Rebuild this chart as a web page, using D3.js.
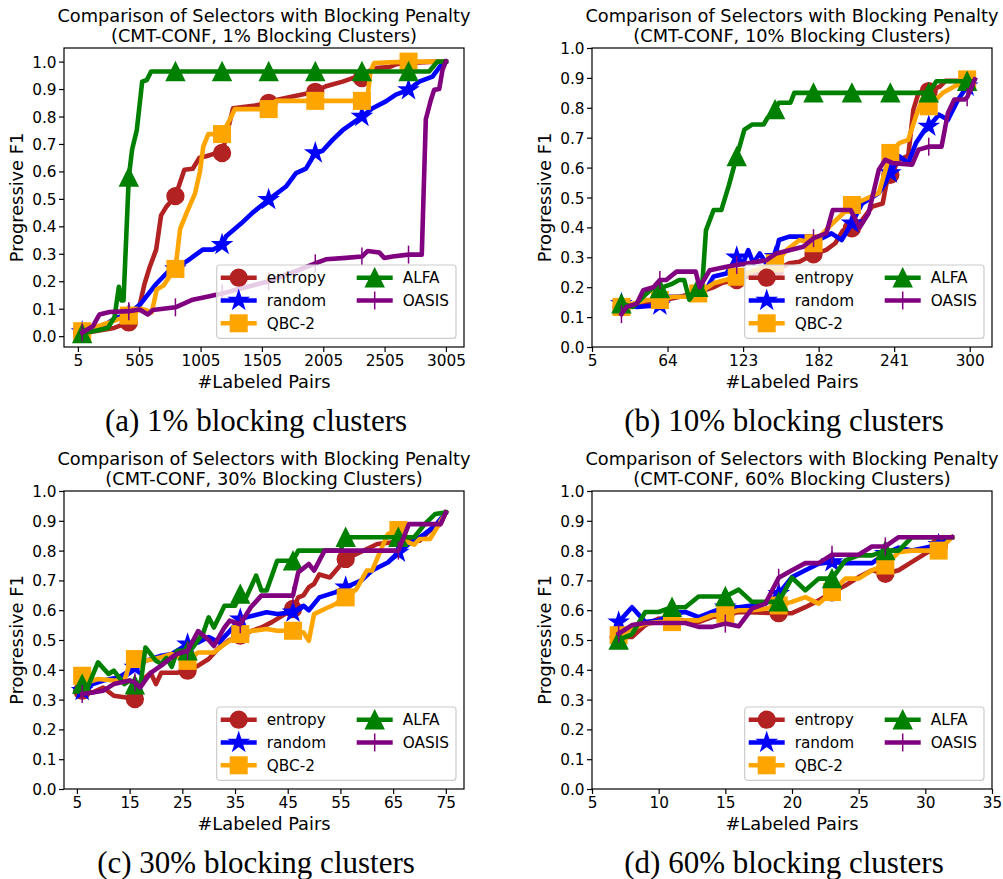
<!DOCTYPE html>
<html>
<head>
<meta charset="utf-8">
<script src="https://cdnjs.cloudflare.com/ajax/libs/d3/7.8.5/d3.min.js"></script>
<style>
  body { margin: 0; background: #fff; }
  svg { display: block; }
  text { font-family: "DejaVu Sans", sans-serif; fill: #000; }
  .caption { font-family: "Liberation Serif", serif; }
</style>
</head>
<body>
<svg id="fig"></svg>
<script>

const width = 1003;
const height = 879;

// series names, legend order (column-major, 3 rows)
const names = ["entropy", "random", "QBC-2", "ALFA", "OASIS"];
const colors = ["#b22222", "#0000ff", "#ffa500", "#008000", "#800080"];
const markers = ["o", "*", "s", "^", "|"];

const yTicks = [0, 0.1, 0.2, 0.3, 0.4, 0.5, 0.6, 0.7, 0.8, 0.9, 1.0];

// ---------- (a) 1% blocking clusters ----------
const xTicksA = [5, 505, 1005, 1505, 2005, 2505, 3005];
const marksA = [40, 420, 800, 1180, 1560, 1940, 2320, 2700];
const entropyA = [[40,0.01],[300,0.03],[420,0.05],[507,0.11],[548,0.19],[589,0.25],[643,0.315],[683,0.44],[724,0.47],[800,0.51],[873,0.606],[941,0.61],[996,0.65],[1050,0.655],[1120,0.665],[1180,0.667],[1210,0.72],[1270,0.83],[1450,0.84],[1560,0.85],[1620,0.86],[1756,0.873],[1940,0.89],[2027,0.91],[2163,0.927],[2244,0.94],[2320,0.94],[2407,0.976],[2543,0.98],[2597,0.99],[2700,0.995],[2922,1.0],[3004,1.0]];
const randomA = [[40,0.015],[209,0.036],[317,0.067],[420,0.08],[521,0.12],[643,0.19],[751,0.24],[800,0.245],[914,0.28],[1023,0.315],[1104,0.315],[1180,0.333],[1213,0.364],[1335,0.41],[1430,0.45],[1560,0.497],[1701,0.545],[1783,0.594],[1864,0.61],[1940,0.667],[2000,0.675],[2081,0.715],[2163,0.75],[2320,0.8],[2407,0.83],[2515,0.855],[2597,0.88],[2700,0.897],[2787,0.927],[2895,0.945],[2977,0.994],[3004,1.0]];
const qbcA = [[40,0.018],[263,0.05],[420,0.075],[521,0.1],[607,0.087],[648,0.17],[702,0.184],[757,0.22],[800,0.245],[838,0.39],[892,0.45],[960,0.52],[1000,0.6],[1027,0.69],[1068,0.736],[1180,0.736],[1245,0.79],[1285,0.827],[1560,0.827],[1620,0.857],[1940,0.857],[2320,0.857],[2362,0.857],[2389,0.96],[2420,0.995],[2700,1.0],[3004,1.0]];
const alfaA = [[40,0.01],[150,0.02],[250,0.03],[304,0.07],[339,0.18],[361,0.13],[377,0.13],[420,0.58],[447,0.68],[485,0.75],[529,0.927],[567,0.933],[602,0.964],[800,0.964],[1180,0.964],[1560,0.964],[1940,0.964],[2320,0.964],[2700,0.964],[2868,0.964],[2936,1.0],[3004,1.0]];
const oasisA = [[40,0.013],[127,0.036],[181,0.079],[263,0.088],[420,0.091],[507,0.097],[575,0.079],[616,0.095],[800,0.105],[941,0.133],[1077,0.145],[1180,0.155],[1300,0.17],[1560,0.2],[1800,0.24],[1940,0.265],[2027,0.28],[2190,0.285],[2320,0.29],[2366,0.31],[2461,0.305],[2502,0.285],[2570,0.29],[2700,0.297],[2808,0.297],[2841,0.79],[2882,0.86],[2909,0.897],[2950,0.9],[2977,0.97],[3004,1.0]];

// ---------- (b) 10% blocking clusters ----------
const xTicksB = [5, 64, 123, 182, 241, 300];
const marksB = [28, 58, 88, 118, 148, 178, 208, 238, 268, 298];
const entropyB = [[28,0.134],[40,0.14],[58,0.155],[70,0.165],[85,0.18],[100,0.2],[107,0.215],[118,0.224],[130,0.24],[148,0.255],[159,0.28],[167,0.285],[178,0.31],[188,0.325],[195,0.347],[201,0.39],[208,0.397],[216,0.425],[224,0.47],[232,0.48],[236,0.57],[238,0.576],[245,0.626],[252,0.64],[256,0.794],[260,0.85],[268,0.856],[277,0.872],[281,0.89],[301,0.89]];
const randomB = [[28,0.145],[40,0.134],[58,0.14],[63,0.168],[82,0.168],[91,0.17],[100,0.236],[110,0.246],[118,0.3],[123,0.28],[127,0.324],[131,0.28],[136,0.313],[141,0.28],[148,0.302],[151,0.358],[159,0.369],[177,0.369],[182,0.358],[192,0.38],[200,0.358],[208,0.414],[216,0.48],[229,0.515],[234,0.548],[238,0.582],[245,0.638],[252,0.615],[258,0.682],[265,0.727],[268,0.738],[276,0.777],[283,0.76],[291,0.828],[298,0.872],[301,0.889]];
const qbcB = [[28,0.134],[37,0.145],[48,0.157],[58,0.157],[68,0.168],[78,0.168],[88,0.179],[100,0.213],[118,0.235],[135,0.26],[148,0.28],[157,0.324],[167,0.358],[178,0.347],[193,0.414],[208,0.475],[216,0.49],[229,0.515],[238,0.649],[245,0.682],[252,0.693],[258,0.772],[263,0.828],[268,0.805],[279,0.85],[298,0.895],[301,0.895]];
const alfaB = [[28,0.145],[37,0.134],[45,0.168],[52,0.196],[58,0.196],[67,0.21],[73,0.224],[77,0.224],[81,0.158],[88,0.2],[91,0.2],[94,0.39],[100,0.458],[106,0.458],[112,0.542],[118,0.637],[124,0.727],[130,0.744],[139,0.744],[142,0.766],[148,0.794],[151,0.817],[160,0.817],[163,0.85],[178,0.85],[208,0.85],[238,0.85],[268,0.85],[274,0.889],[298,0.889],[301,0.889]];
const oasisB = [[28,0.11],[32,0.134],[40,0.145],[45,0.19],[53,0.2],[58,0.224],[63,0.224],[71,0.252],[86,0.252],[89,0.2],[97,0.257],[110,0.268],[118,0.274],[141,0.29],[149,0.313],[170,0.335],[178,0.364],[188,0.38],[193,0.458],[207,0.458],[214,0.4],[221,0.447],[229,0.593],[234,0.626],[240,0.615],[255,0.61],[260,0.66],[268,0.67],[278,0.67],[283,0.783],[288,0.828],[296,0.828],[298,0.835],[304,0.895]];

// ---------- (c) 30% blocking clusters ----------
const xTicksC = [5, 15, 25, 35, 45, 55, 65, 75];
const marksC = [6, 16, 26, 36, 46, 56, 66];
const entropyC = [[6,0.33],[8,0.324],[10,0.34],[12,0.313],[14,0.308],[16,0.302],[17,0.358],[19,0.39],[20,0.352],[21,0.39],[24,0.39],[26,0.397],[28,0.414],[30,0.436],[32,0.475],[34,0.5],[36,0.515],[38,0.53],[40,0.542],[42,0.56],[46,0.604],[47,0.643],[48,0.65],[49,0.677],[50,0.688],[51,0.72],[53,0.71],[56,0.772],[57,0.78],[62,0.822],[65,0.828],[68,0.833],[70,0.833],[72,0.867],[74,0.889],[75,0.928]];
const randomC = [[6,0.33],[8,0.352],[10,0.364],[13,0.375],[16,0.408],[18,0.43],[21,0.447],[23,0.453],[26,0.486],[28,0.492],[30,0.51],[32,0.492],[34,0.53],[36,0.57],[38,0.58],[41,0.593],[43,0.587],[46,0.593],[48,0.615],[49,0.6],[51,0.643],[54,0.66],[56,0.677],[59,0.7],[61,0.733],[64,0.76],[66,0.794],[68,0.822],[71,0.856],[73,0.884],[75,0.928]];
const qbcC = [[6,0.38],[7,0.358],[9,0.369],[12,0.364],[14,0.364],[15,0.42],[16,0.436],[18,0.43],[21,0.442],[23,0.453],[26,0.43],[28,0.458],[31,0.458],[33,0.486],[36,0.52],[38,0.53],[41,0.537],[43,0.531],[46,0.531],[48,0.525],[49,0.497],[50,0.587],[52,0.604],[54,0.62],[56,0.643],[58,0.67],[60,0.733],[61,0.733],[63,0.816],[64,0.855],[66,0.869],[67,0.833],[69,0.82],[70,0.839],[72,0.839],[73,0.867],[75,0.928]];
const alfaC = [[6,0.352],[7,0.34],[9,0.425],[11,0.386],[12,0.397],[14,0.352],[15,0.364],[16,0.35],[17,0.34],[18,0.475],[20,0.43],[21,0.42],[22,0.44],[23,0.41],[24,0.464],[26,0.464],[27,0.475],[29,0.525],[30,0.576],[31,0.542],[33,0.615],[35,0.615],[36,0.654],[37,0.638],[39,0.716],[40,0.666],[41,0.666],[43,0.766],[46,0.766],[47,0.8],[55,0.8],[56,0.845],[66,0.845],[69,0.845],[71,0.889],[73,0.923],[75,0.928]];
const oasisC = [[6,0.319],[8,0.324],[10,0.33],[12,0.352],[15,0.364],[16,0.358],[17,0.34],[19,0.39],[21,0.414],[23,0.442],[24,0.453],[26,0.464],[28,0.53],[30,0.5],[31,0.48],[33,0.542],[34,0.565],[36,0.553],[38,0.61],[40,0.649],[46,0.649],[47,0.727],[49,0.755],[50,0.733],[52,0.8],[66,0.8],[68,0.889],[74,0.889],[75,0.928]];

// ---------- (d) 60% blocking clusters ----------
const xTicksD = [5, 10, 15, 20, 25, 30, 35];
const marksD = [7, 11, 15, 19, 23, 27, 31];
const entropyD = [[7,0.51],[8,0.51],[9,0.55],[10,0.572],[11,0.566],[12,0.566],[13,0.56],[14,0.577],[15,0.583],[16,0.594],[19,0.59],[20,0.59],[21,0.61],[22,0.633],[23,0.66],[24,0.683],[25,0.711],[26,0.734],[27,0.722],[28,0.734],[29,0.762],[30,0.79],[31,0.815],[32,0.845]];
const randomD = [[7,0.56],[8,0.61],[9,0.56],[10,0.566],[11,0.588],[12,0.594],[13,0.577],[14,0.594],[15,0.61],[16,0.61],[17,0.616],[18,0.622],[19,0.655],[20,0.711],[21,0.734],[22,0.756],[23,0.762],[24,0.758],[26,0.758],[27,0.79],[28,0.81],[29,0.8],[30,0.81],[31,0.82],[32,0.845]];
const qbcD = [[7,0.516],[8,0.538],[9,0.555],[10,0.56],[11,0.56],[12,0.566],[13,0.566],[14,0.583],[15,0.588],[16,0.6],[17,0.6],[18,0.605],[19,0.616],[20,0.628],[21,0.644],[22,0.622],[23,0.661],[24,0.706],[25,0.706],[26,0.734],[27,0.75],[28,0.795],[29,0.8],[31,0.8],[32,0.845]];
const alfaD = [[7,0.5],[8,0.52],[9,0.594],[10,0.594],[11,0.61],[12,0.61],[13,0.646],[15,0.646],[16,0.669],[17,0.628],[19,0.628],[20,0.709],[21,0.667],[22,0.706],[23,0.706],[24,0.767],[25,0.784],[26,0.784],[27,0.8],[28,0.8],[29,0.845],[32,0.845]];
const oasisD = [[7,0.521],[8,0.55],[9,0.557],[12,0.557],[13,0.544],[14,0.544],[15,0.555],[16,0.546],[17,0.605],[18,0.622],[19,0.709],[20,0.734],[21,0.758],[22,0.758],[23,0.786],[25,0.786],[26,0.814],[27,0.814],[28,0.845],[32,0.845]];

const panels = [
	{ title: "(CMT-CONF, 1% Blocking Clusters)", caption: "(a) 1% blocking clusters",
	  box: { l: 64, t: 48, r: 464, b: 347 }, capX: 256,
	  xTicks: xTicksA, xDomain: null, yDomain: null, marks: marksA,
	  series: [entropyA, randomA, qbcA, alfaA, oasisA] },
	{ title: "(CMT-CONF, 10% Blocking Clusters)", caption: "(b) 10% blocking clusters",
	  box: { l: 592, t: 48, r: 992, b: 347 }, capX: 784,
	  xTicks: xTicksB, xDomain: [5, 317.4], yDomain: [0, 1], marks: marksB,
	  series: [entropyB, randomB, qbcB, alfaB, oasisB] },
	{ title: "(CMT-CONF, 30% Blocking Clusters)", caption: "(c) 30% blocking clusters",
	  box: { l: 64, t: 491, r: 464, b: 789 }, capX: 256,
	  xTicks: xTicksC, xDomain: null, yDomain: [0, 1], marks: marksC,
	  series: [entropyC, randomC, qbcC, alfaC, oasisC] },
	{ title: "(CMT-CONF, 60% Blocking Clusters)", caption: "(d) 60% blocking clusters",
	  box: { l: 592, t: 491, r: 992, b: 789 }, capX: 784,
	  xTicks: xTicksD, xDomain: [5, 35], yDomain: [0, 1], marks: marksD,
	  series: [entropyD, randomD, qbcD, alfaD, oasisD] }
];

const svg = d3.select("#fig")
	.attr("width", width)
	.attr("height", height)
	.attr("viewBox", `0 0 ${width} ${height}`);

svg.append("rect").attr("width", width).attr("height", height).attr("fill", "#fff");

const MS = 18;      // marker size in px
const LW = 4.6;     // line width in px

function starPath(R) {
	const r = R * 0.381966;
	let pts = [];
	for (let i = 0; i < 10; i++) {
		const a = -Math.PI / 2 + i * Math.PI / 5;
		const rr = i % 2 === 0 ? R : r;
		pts.push([rr * Math.cos(a), rr * Math.sin(a)]);
	}
	return "M" + pts.map(p => p.join(",")).join("L") + "Z";
}

function drawMarker(g, type, color, x, y) {
	const h = MS / 2;
	let m;
	if (type === "o") {
		m = g.append("circle").attr("cx", x).attr("cy", y).attr("r", h - 0.6);
	} else if (type === "s") {
		m = g.append("rect").attr("x", x - h + 0.75).attr("y", y - h + 0.75)
			.attr("width", MS - 1.5).attr("height", MS - 1.5);
	} else if (type === "^") {
		m = g.append("path").attr("transform", `translate(${x},${y})`)
			.attr("d", `M0,${-h}L${-h},${h}L${h},${h}Z`);
	} else if (type === "*") {
		m = g.append("path").attr("transform", `translate(${x},${y})`)
			.attr("d", starPath(h + 0.5));
	} else {
		g.append("line").attr("x1", x).attr("x2", x).attr("y1", y - h).attr("y2", y + h)
			.attr("stroke", color).attr("stroke-width", 1.5);
		return;
	}
	m.attr("fill", color).attr("stroke", color).attr("stroke-width", 1.5)
		.attr("stroke-linejoin", "miter");
}

function padDomain(vals) {
	const [lo, hi] = d3.extent(vals);
	const pad = (hi - lo) * 0.05;
	return [lo - pad, hi + pad];
}

panels.forEach((p, pi) => {
	const b = p.box;
	const allX = p.series.flatMap(s => s.map(d => d[0]));
	const allY = p.series.flatMap(s => s.map(d => d[1]));

	const x = d3.scaleLinear().domain(p.xDomain || padDomain(allX)).range([b.l, b.r]);
	const y = d3.scaleLinear().domain(p.yDomain || padDomain(allY)).range([b.b, b.t]);

	const g = svg.append("g");

	const clipId = "clip" + pi;
	svg.append("clipPath").attr("id", clipId)
		.append("rect").attr("x", b.l).attr("y", b.t)
		.attr("width", b.r - b.l).attr("height", b.b - b.t);

	// axes
	const xAxis = g.append("g")
		.attr("transform", `translate(0,${b.b})`)
		.call(d3.axisBottom(x).tickValues(p.xTicks).tickSize(5).tickPadding(4).tickFormat(d3.format("d")));
	const yAxis = g.append("g")
		.attr("transform", `translate(${b.l},0)`)
		.call(d3.axisLeft(y).tickValues(yTicks).tickSize(5).tickPadding(4).tickFormat(d3.format(".1f")));
	[xAxis, yAxis].forEach(a => {
		a.select(".domain").remove();
		a.selectAll(".tick line").attr("stroke", "#000").attr("stroke-width", 1.2);
		a.selectAll(".tick text").attr("font-size", 15.3).attr("font-family", "DejaVu Sans").attr("fill", "#000");
	});
	xAxis.selectAll(".tick text").attr("dy", null).attr("y", 19.3);
	yAxis.selectAll(".tick text").attr("dy", "0.36em").attr("x", -7.5);

	// lines + markers, drawn in series order
	const plot = g.append("g").attr("clip-path", `url(#${clipId})`);
	const line = d3.line().x(d => x(d[0])).y(d => y(d[1]));
	p.series.forEach((s, si) => {
		plot.append("path")
			.datum(s)
			.attr("d", line)
			.attr("fill", "none")
			.attr("stroke", colors[si])
			.attr("stroke-width", LW)
			.attr("stroke-linejoin", "round")
			.attr("stroke-linecap", "square");
		p.marks.forEach(mx => {
			const pt = s.find(d => d[0] === mx);
			if (!pt) return;
			drawMarker(plot, markers[si], colors[si], x(pt[0]), y(pt[1]));
		});
	});

	// frame
	g.append("rect")
		.attr("x", b.l).attr("y", b.t)
		.attr("width", b.r - b.l).attr("height", b.b - b.t)
		.attr("fill", "none").attr("stroke", "#000").attr("stroke-width", 1.2);

	// titles and labels
	const cx = (b.l + b.r) / 2;
	g.append("text").attr("x", cx).attr("y", b.t - 25.7).attr("text-anchor", "middle")
		.attr("font-size", 17.8).text("Comparison of Selectors with Blocking Penalty");
	g.append("text").attr("x", cx).attr("y", b.t - 5.7).attr("text-anchor", "middle")
		.attr("font-size", 17.8).text(p.title);
	g.append("text").attr("x", cx).attr("y", b.b + 41.3).attr("text-anchor", "middle")
		.attr("font-size", 17.8).text("#Labeled Pairs");
	g.append("text")
		.attr("transform", `translate(${b.l - 41},${(b.t + b.b) / 2}) rotate(-90)`)
		.attr("text-anchor", "middle").attr("font-size", 17.8).text("Progressive F1");
	g.append("text").attr("class", "caption")
		.attr("x", p.capX).attr("y", b.b + 83.5).attr("text-anchor", "middle")
		.attr("font-size", 31).text(p.caption);

	// legend
	const lw = 239.3, lh = 73.3;
	const lx = b.r - 8 - lw, ly = b.b - 8.7 - lh;
	const leg = g.append("g").attr("transform", `translate(${lx},${ly})`);
	leg.append("rect").attr("width", lw).attr("height", lh).attr("rx", 3)
		.attr("fill", "#fff").attr("fill-opacity", 0.8)
		.attr("stroke", "#cccccc").attr("stroke-width", 1.2);
	names.forEach((n, i) => {
		const col = Math.floor(i / 3), row = i % 3;
		const hx = 4 + col * 136;
		const hy = 12.7 + row * 22.8;
		leg.append("line").attr("x1", hx).attr("x2", hx + 36).attr("y1", hy).attr("y2", hy)
			.attr("stroke", colors[i]).attr("stroke-width", LW);
		drawMarker(leg, markers[i], colors[i], hx + 18, hy);
		leg.append("text").attr("x", hx + 46).attr("y", hy).attr("dy", "0.36em")
			.attr("font-size", 15.3).text(n);
	});
});

</script>
</body>
</html>
